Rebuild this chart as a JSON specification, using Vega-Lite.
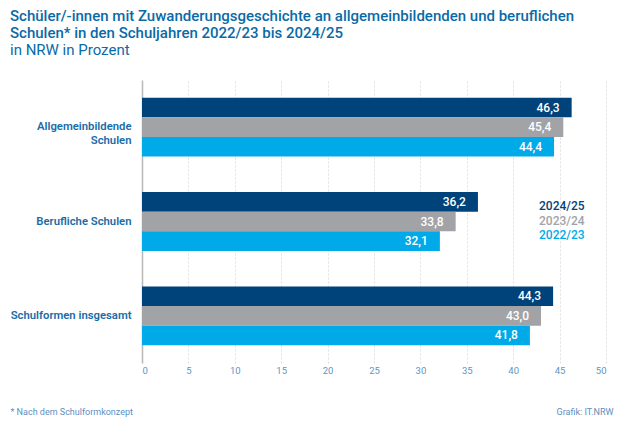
{
  "$schema": "https://vega.github.io/schema/vega-lite/v6.json",
  "autosize": {"type": "none"},
  "padding": {"left": 142, "top": 80, "right": 30, "bottom": 62},
  "width": 464,
  "height": 283,
  "title": {
    "text": ["Schüler/-innen mit Zuwanderungsgeschichte an allgemeinbildenden und beruflichen", "Schulen* in den Schuljahren 2022/23 bis 2024/25"],
    "subtitle": "in NRW in Prozent",
    "anchor": "start",
    "frame": "group",
    "dx": -132,
    "offset": 22,
    "font": "Roboto",
    "fontSize": 15,
    "fontWeight": 500,
    "lineHeight": 17,
    "color": "#0a6aa8",
    "subtitleFont": "Roboto",
    "subtitleFontSize": 15,
    "subtitleFontWeight": 400,
    "subtitleColor": "#0a6aa8",
    "subtitlePadding": 2
  },
  "config": {
    "view": {"stroke": null},
    "locale": {"number": {"decimal": ",", "thousands": ".", "grouping": [3], "currency": ["", " €"]}},
    "font": "Roboto"
  },
  "data": {
    "values": [
      {"Schulform": "Allgemeinbildende Schulen", "Jahr": "2024/25", "Anteil": 46.3},
      {"Schulform": "Allgemeinbildende Schulen", "Jahr": "2023/24", "Anteil": 45.4},
      {"Schulform": "Allgemeinbildende Schulen", "Jahr": "2022/23", "Anteil": 44.4},
      {"Schulform": "Berufliche Schulen", "Jahr": "2024/25", "Anteil": 36.2},
      {"Schulform": "Berufliche Schulen", "Jahr": "2023/24", "Anteil": 33.8},
      {"Schulform": "Berufliche Schulen", "Jahr": "2022/23", "Anteil": 32.1},
      {"Schulform": "Schulformen insgesamt", "Jahr": "2024/25", "Anteil": 44.3},
      {"Schulform": "Schulformen insgesamt", "Jahr": "2023/24", "Anteil": 43.0},
      {"Schulform": "Schulformen insgesamt", "Jahr": "2022/23", "Anteil": 41.8}
    ]
  },
  "encoding": {
    "y": {
      "field": "Schulform",
      "type": "nominal",
      "sort": null,
      "scale": {"paddingInner": 0.376, "paddingOuter": 0.188},
      "axis": {
        "title": "Grafik: IT.NRW",
        "titleAngle": 0,
        "titleX": 471,
        "titleY": 331,
        "titleAlign": "right",
        "titleBaseline": "middle",
        "titleFont": "Roboto",
        "titleFontSize": 9,
        "titleFontWeight": 400,
        "titleColor": "#5e8fbf",
        "ticks": false,
        "domainColor": "#b8b8b8",
        "domainWidth": 1.5,
        "labelPadding": 11,
        "labelFont": "Roboto",
        "labelFontSize": 11.3,
        "labelFontWeight": 600,
        "labelColor": "#1a6ca8",
        "labelLineHeight": 14,
        "labelExpr": "datum.value == 'Allgemeinbildende Schulen' ? ['Allgemeinbildende', 'Schulen'] : datum.value"
      }
    },
    "yOffset": {
      "field": "Jahr",
      "type": "nominal",
      "scale": {"domain": ["2024/25", "2023/24", "2022/23"], "paddingInner": 0, "paddingOuter": 0}
    },
    "x": {
      "field": "Anteil",
      "type": "quantitative",
      "scale": {"domain": [0, 50]},
      "axis": {
        "values": [0, 5, 10, 15, 20, 25, 30, 35, 40, 45, 50],
        "title": "* Nach dem Schulformkonzept",
        "titleX": -132,
        "titleY": 48,
        "titleAlign": "left",
        "titleBaseline": "middle",
        "titleFont": "Roboto",
        "titleFontSize": 9,
        "titleFontWeight": 400,
        "titleColor": "#5e8fbf",
        "domain": false,
        "ticks": false,
        "grid": true,
        "gridColor": "#d6d6d6",
        "gridDash": [2, 2],
        "gridWidth": 0.8,
        "labelPadding": 2,
        "labelFont": "Roboto",
        "labelFontSize": 9.5,
        "labelColor": "#5e95c4"
      }
    }
  },
  "layer": [
    {
      "mark": {"type": "bar"},
      "encoding": {
        "color": {
          "field": "Jahr",
          "type": "nominal",
          "scale": {"domain": ["2024/25", "2023/24", "2022/23"], "range": ["#00437a", "#a2a3a7", "#00aae9"]},
          "legend": {
            "title": null,
            "orient": "none",
            "legendX": 385,
            "legendY": 120,
            "symbolSize": 0,
            "symbolOpacity": 0,
            "symbolStrokeWidth": 0,
            "labelOffset": 0,
            "rowPadding": 2.5,
            "labelFont": "Roboto",
            "labelFontSize": 12,
            "labelFontWeight": 500,
            "encode": {
              "labels": {"update": {"fill": {"scale": "color", "field": "value"}}}
            }
          }
        }
      }
    },
    {
      "mark": {"type": "text", "align": "right", "baseline": "middle", "dx": -12, "color": "white", "font": "Roboto", "fontSize": 12, "fontWeight": 500},
      "encoding": {
        "text": {"field": "Anteil", "type": "quantitative", "format": ".1f"}
      }
    }
  ]
}
